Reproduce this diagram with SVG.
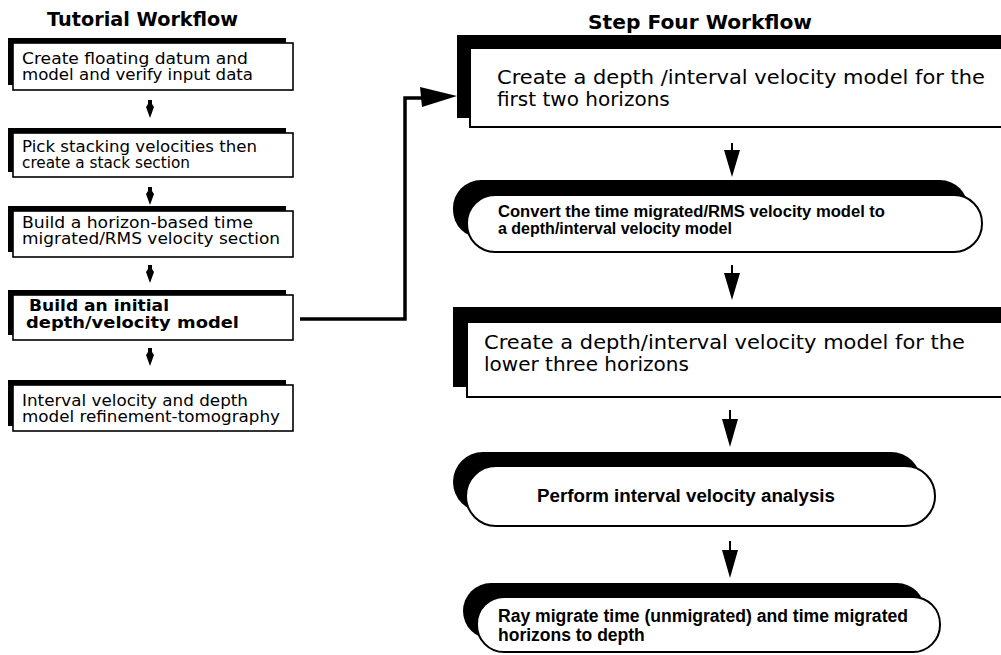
<svg xmlns="http://www.w3.org/2000/svg" width="1001" height="655" viewBox="0 0 1001 655">
<style>
.sh{fill:#000}
.bx{fill:#fff;stroke:#000;stroke-width:1.6}
.bx2{fill:#fff;stroke:#000;stroke-width:2}
.lt{font-family:"DejaVu Sans",sans-serif;font-size:15.5px;fill:#000}
.ltb{font-family:"DejaVu Sans",sans-serif;font-size:16.5px;font-weight:bold;fill:#000}
.ttl{font-family:"DejaVu Sans",sans-serif;font-size:19px;font-weight:bold;fill:#000}
.rt{font-family:"DejaVu Sans",sans-serif;font-size:20px;fill:#000}
.rb{font-family:"Liberation Sans",Arial,sans-serif;font-size:16px;font-weight:bold;fill:#000}
.rb2{font-family:"Liberation Sans",Arial,sans-serif;font-size:17.5px;font-weight:bold;fill:#000}
.ar{fill:#000}
.cn{fill:none;stroke:#000;stroke-width:3.5}
</style>
<rect width="1001" height="655" fill="#fff"/>
<text class="ttl" x="47" y="26" textLength="191" lengthAdjust="spacingAndGlyphs">Tutorial Workflow</text>
<text class="ttl" x="588" y="29" textLength="224" lengthAdjust="spacingAndGlyphs">Step Four Workflow</text>

<g id="t1">
<rect class="sh" x="8" y="38" width="278" height="47"/>
<rect class="bx" x="13" y="43" width="280" height="47"/>
<text class="lt" x="22" y="64" textLength="226" lengthAdjust="spacingAndGlyphs">Create floating datum and</text>
<text class="lt" x="22" y="80" textLength="231" lengthAdjust="spacingAndGlyphs">model and verify input data</text>
</g>
<g id="t2">
<rect class="sh" x="8" y="128" width="278" height="44"/>
<rect class="bx" x="13" y="133" width="280" height="44"/>
<text class="lt" x="22" y="152" textLength="235" lengthAdjust="spacingAndGlyphs">Pick stacking velocities then</text>
<text class="lt" x="22" y="168" textLength="168" lengthAdjust="spacingAndGlyphs">create a stack section</text>
</g>
<g id="t3">
<rect class="sh" x="8" y="206" width="278" height="46"/>
<rect class="bx" x="13" y="211" width="280" height="46"/>
<text class="lt" x="22" y="228" textLength="231" lengthAdjust="spacingAndGlyphs">Build a horizon-based time</text>
<text class="lt" x="22" y="244" textLength="258" lengthAdjust="spacingAndGlyphs">migrated/RMS velocity section</text>
</g>
<g id="t4">
<rect class="sh" x="8" y="290" width="278" height="45"/>
<rect class="bx" x="13" y="295" width="280" height="45"/>
<text class="ltb" x="29" y="311" textLength="140" lengthAdjust="spacingAndGlyphs">Build an initial</text>
<text class="ltb" x="26" y="328" textLength="213" lengthAdjust="spacingAndGlyphs">depth/velocity model</text>
</g>
<g id="t5">
<rect class="sh" x="8" y="380" width="278" height="46"/>
<rect class="bx" x="13" y="385" width="280" height="46"/>
<text class="lt" x="22" y="406" textLength="226" lengthAdjust="spacingAndGlyphs">Interval velocity and depth</text>
<text class="lt" x="22" y="422" textLength="258" lengthAdjust="spacingAndGlyphs">model refinement-tomography</text>
</g>

<g id="s1">
<rect class="sh" x="457" y="35" width="560" height="83"/>
<rect class="bx2" x="470" y="48" width="545" height="79"/>
<text class="rt" x="497" y="84" textLength="488" lengthAdjust="spacingAndGlyphs">Create a depth /interval velocity model for the</text>
<text class="rt" x="497" y="106">first two horizons</text>
</g>
<g id="s2">
<rect class="sh" x="453" y="180" width="515" height="58" rx="28"/>
<rect class="bx2" x="467" y="195" width="515" height="57" rx="28"/>
<text class="rb" x="498" y="217" textLength="387" lengthAdjust="spacingAndGlyphs">Convert the time migrated/RMS velocity model to</text>
<text class="rb" x="498" y="234">a depth/interval velocity model</text>
</g>
<g id="s3">
<rect class="sh" x="453" y="307" width="560" height="80"/>
<rect class="bx2" x="467" y="322" width="545" height="75"/>
<text class="rt" x="484" y="349" textLength="481" lengthAdjust="spacingAndGlyphs">Create a depth/interval velocity model for the</text>
<text class="rt" x="484" y="371">lower three horizons</text>
</g>
<g id="s4">
<rect class="sh" x="453" y="452" width="468" height="60" rx="30"/>
<rect class="bx2" x="466" y="466" width="469" height="60" rx="30"/>
<text class="rb2" x="537" y="502" textLength="298" lengthAdjust="spacingAndGlyphs">Perform interval velocity analysis</text>
</g>
<g id="s5">
<rect class="sh" x="463" y="583" width="462" height="56" rx="28"/>
<rect class="bx2" x="477" y="597" width="463" height="55" rx="27"/>
<text class="rb2" x="498" y="622" textLength="410" lengthAdjust="spacingAndGlyphs">Ray migrate time (unmigrated) and time migrated</text>
<text class="rb2" x="498" y="641">horizons to depth</text>
</g>

<g id="connectors">
<path class="ar" d="M148,100 H152 V104 L154,107 L150,118 L146,107 L148,104 Z"/>
<path class="ar" d="M148,187 H152 V191 L154,194 L150,205 L146,194 L148,191 Z"/>
<path class="ar" d="M148,265 H152 V269 L154,272 L150,283 L146,272 L148,269 Z"/>
<path class="ar" d="M148,348 H152 V352 L154,355 L150,366 L146,355 L148,352 Z"/>
<path class="ar" d="M731,143 H733 V150 H740 L732,177 L724,150 H731 Z"/>
<path class="ar" d="M731,265 H733 V273 H740 L732,300 L724,273 H731 Z"/>
<path class="ar" d="M729,410 H731 V419 H738 L730,447 L722,419 H729 Z"/>
<path class="ar" d="M729,541 H731 V550 H738 L730,578 L722,550 H729 Z"/>
<path class="cn" d="M300,319 H405 V98 H426"/>
<path class="ar" d="M420,87 L457,96 L422,107 Z"/>
</g>
</svg>
